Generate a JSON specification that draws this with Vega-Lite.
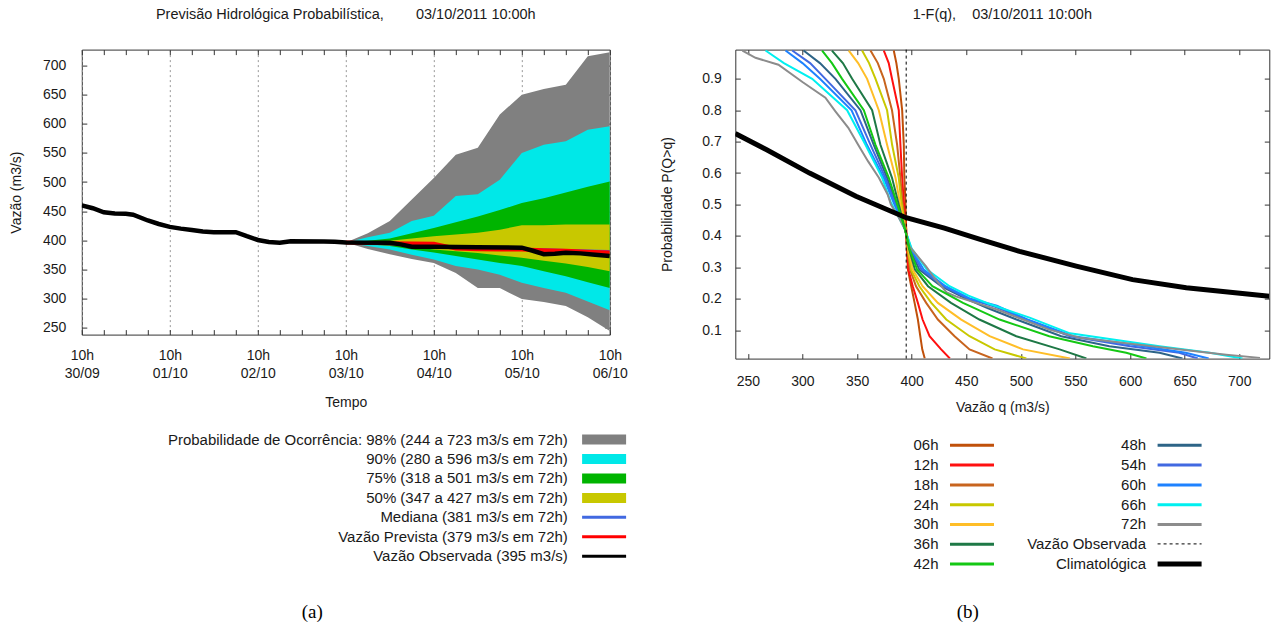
{
 "$schema": "https://vega.github.io/schema/vega-lite/v6.json",
 "background": "white",
 "padding": {"left": 8.8, "top": 5.6, "right": 0, "bottom": 0},
 "spacing": 25.5,
 "resolve": {"scale": {"color": "independent", "stroke": "independent", "fill": "independent", "strokeDash": "independent", "strokeWidth": "independent"}, "legend": {"color": "independent", "stroke": "independent", "fill": "independent", "strokeDash": "independent", "strokeWidth": "independent"}},
 "config": {
  "view": {"stroke": "#333", "strokeWidth": 1},
  "font": "Liberation Sans",
  "axis": {"labelFont": "Liberation Sans", "labelFontSize": 14, "labelColor": "#1a1a1a", "titleFont": "Liberation Sans", "titleFontSize": 14, "titleFontWeight": "normal", "titleColor": "#1a1a1a", "tickColor": "#333", "domain": false, "grid": false},
  "legend": {"labelFont": "Liberation Sans", "labelFontSize": 15, "labelColor": "#1a1a1a", "labelLimit": 0, "padding": 0},
  "title": {"font": "Liberation Sans", "fontSize": 14.5, "fontWeight": "normal", "color": "#1a1a1a", "anchor": "middle", "offset": 27, "baseline": "alphabetic"}
 },
 "datasets": {
  "bands": [
   {"t":72,"lo98":396,"hi98":396,"lo90":396,"hi90":396,"lo75":396,"hi75":396,"lo50":396,"hi50":396},
   {"t":78,"lo98":385,"hi98":412,"lo90":390,"hi90":405,"lo75":393,"hi75":399,"lo50":395,"hi50":397},
   {"t":84,"lo98":376,"hi98":433,"lo90":384,"hi90":413,"lo75":390,"hi75":403,"lo50":394,"hi50":399},
   {"t":90,"lo98":368,"hi98":470,"lo90":375,"hi90":433,"lo75":384,"hi75":412,"lo50":389,"hi50":403},
   {"t":96,"lo98":361,"hi98":507,"lo90":367,"hi90":442,"lo75":379,"hi75":421,"lo50":384,"hi50":407},
   {"t":102,"lo98":344,"hi98":547,"lo90":356,"hi90":476,"lo75":373,"hi75":431,"lo50":381,"hi50":410},
   {"t":108,"lo98":318,"hi98":559,"lo90":350,"hi90":479,"lo75":367,"hi75":441,"lo50":378,"hi50":413},
   {"t":114,"lo98":318,"hi98":616,"lo90":341,"hi90":504,"lo75":361,"hi75":452,"lo50":374,"hi50":418},
   {"t":120,"lo98":299,"hi98":650,"lo90":327,"hi90":550,"lo75":356,"hi75":464,"lo50":370,"hi50":426},
   {"t":126,"lo98":294,"hi98":660,"lo90":318,"hi90":564,"lo75":347,"hi75":472,"lo50":365,"hi50":426},
   {"t":132,"lo98":287,"hi98":667,"lo90":310,"hi90":570,"lo75":338,"hi75":482,"lo50":360,"hi50":427},
   {"t":138,"lo98":268,"hi98":716,"lo90":295,"hi90":590,"lo75":328,"hi75":492,"lo50":354,"hi50":427},
   {"t":144,"lo98":244,"hi98":723,"lo90":280,"hi90":596,"lo75":318,"hi75":501,"lo50":347,"hi50":427}
  ],
  "obs": [
   {"t":0,"v":460},{"t":3,"v":455},{"t":6,"v":448},{"t":9,"v":446},{"t":12,"v":445.5},{"t":14,"v":444},{"t":18,"v":434},{"t":21,"v":428},{"t":24,"v":423},{"t":27,"v":420},{"t":30,"v":417.5},{"t":33,"v":415},{"t":36,"v":414},{"t":42,"v":414},{"t":45,"v":407},{"t":48,"v":400.5},{"t":51,"v":397},{"t":54,"v":395.8},{"t":57,"v":398.3},{"t":66,"v":398},{"t":69,"v":397.5},{"t":72,"v":396},{"t":84,"v":395.8},{"t":87,"v":393},{"t":90,"v":389},{"t":96,"v":389},{"t":108,"v":388},{"t":120,"v":387.3},{"t":123,"v":382},{"t":126,"v":376},{"t":129,"v":377},{"t":132,"v":378.5},{"t":136,"v":377.5},{"t":140,"v":375},{"t":144,"v":373}
  ],
  "prev": [
   {"t":72,"v":396},{"t":78,"v":395.5},{"t":84,"v":395},{"t":90,"v":394.5},{"t":96,"v":394},{"t":102,"v":386},{"t":108,"v":384.5},{"t":114,"v":384},{"t":120,"v":384},{"t":126,"v":383},{"t":132,"v":382},{"t":138,"v":380.5},{"t":144,"v":379}
  ],
  "med": [
   {"t":72,"v":396},{"t":78,"v":395},{"t":84,"v":393.5},{"t":90,"v":392},{"t":96,"v":390.5},{"t":102,"v":389},{"t":108,"v":388},{"t":114,"v":386.5},{"t":120,"v":385},{"t":126,"v":384},{"t":132,"v":383},{"t":138,"v":382},{"t":144,"v":381}
  ],
  "clim": [
   {"q":238.5,"p":0.726},{"q":266.8,"p":0.675},{"q":306.5,"p":0.6},{"q":349,"p":0.526},{"q":395,"p":0.458},{"q":430,"p":0.425},{"q":462,"p":0.39},{"q":498.8,"p":0.351},{"q":550.7,"p":0.304},{"q":602.3,"p":0.261},{"q":651.5,"p":0.235},{"q":727.5,"p":0.208}
  ],
  "curves": [
   {"h":"06h","q":383.6,"p":0.99},{"h":"06h","q":386,"p":0.95},{"h":"06h","q":388.2,"p":0.9},{"h":"06h","q":391.3,"p":0.8},{"h":"06h","q":392.8,"p":0.69},{"h":"06h","q":393.3,"p":0.585},{"h":"06h","q":394.3,"p":0.51},{"h":"06h","q":395,"p":0.42},{"h":"06h","q":395.5,"p":0.36},{"h":"06h","q":396.6,"p":0.293},{"h":"06h","q":399.6,"p":0.24},{"h":"06h","q":402.7,"p":0.187},{"h":"06h","q":405.7,"p":0.134},{"h":"06h","q":407.9,"p":0.081},{"h":"06h","q":409.7,"p":0.039},{"h":"06h","q":412,"p":0.01},
   {"h":"12h","q":374.5,"p":0.99},{"h":"12h","q":379,"p":0.95},{"h":"12h","q":382,"p":0.9},{"h":"12h","q":388.2,"p":0.8},{"h":"12h","q":389.7,"p":0.69},{"h":"12h","q":391.3,"p":0.585},{"h":"12h","q":392.8,"p":0.51},{"h":"12h","q":395,"p":0.42},{"h":"12h","q":395.8,"p":0.36},{"h":"12h","q":397,"p":0.293},{"h":"12h","q":401,"p":0.24},{"h":"12h","q":405.7,"p":0.187},{"h":"12h","q":410,"p":0.134},{"h":"12h","q":416.4,"p":0.081},{"h":"12h","q":427,"p":0.039},{"h":"12h","q":435,"p":0.01},
   {"h":"18h","q":362.3,"p":0.99},{"h":"18h","q":369,"p":0.95},{"h":"18h","q":374.5,"p":0.9},{"h":"18h","q":382,"p":0.8},{"h":"18h","q":386.7,"p":0.69},{"h":"18h","q":389.7,"p":0.585},{"h":"18h","q":391.5,"p":0.51},{"h":"18h","q":394.5,"p":0.42},{"h":"18h","q":396,"p":0.36},{"h":"18h","q":398.5,"p":0.293},{"h":"18h","q":404,"p":0.24},{"h":"18h","q":413.3,"p":0.187},{"h":"18h","q":424,"p":0.134},{"h":"18h","q":439.3,"p":0.081},{"h":"18h","q":453,"p":0.039},{"h":"18h","q":474,"p":0.01},
   {"h":"24h","q":354.6,"p":0.99},{"h":"24h","q":361,"p":0.95},{"h":"24h","q":366.9,"p":0.9},{"h":"24h","q":377.5,"p":0.8},{"h":"24h","q":382.1,"p":0.69},{"h":"24h","q":388.2,"p":0.585},{"h":"24h","q":390.5,"p":0.51},{"h":"24h","q":394.5,"p":0.42},{"h":"24h","q":396.5,"p":0.36},{"h":"24h","q":399.5,"p":0.293},{"h":"24h","q":407,"p":0.24},{"h":"24h","q":418,"p":0.187},{"h":"24h","q":431.7,"p":0.134},{"h":"24h","q":453,"p":0.081},{"h":"24h","q":476,"p":0.039},{"h":"24h","q":505,"p":0.01},
   {"h":"30h","q":342.4,"p":0.99},{"h":"30h","q":351,"p":0.95},{"h":"30h","q":359.2,"p":0.9},{"h":"30h","q":369.9,"p":0.8},{"h":"30h","q":377.5,"p":0.69},{"h":"30h","q":385.2,"p":0.585},{"h":"30h","q":389,"p":0.51},{"h":"30h","q":394.3,"p":0.42},{"h":"30h","q":397,"p":0.36},{"h":"30h","q":401,"p":0.293},{"h":"30h","q":410,"p":0.24},{"h":"30h","q":424,"p":0.187},{"h":"30h","q":445.4,"p":0.134},{"h":"30h","q":471.4,"p":0.081},{"h":"30h","q":502,"p":0.039},{"h":"30h","q":545,"p":0.01},
   {"h":"36h","q":327,"p":0.99},{"h":"36h","q":337,"p":0.95},{"h":"36h","q":345.5,"p":0.9},{"h":"36h","q":363.8,"p":0.8},{"h":"36h","q":371.4,"p":0.69},{"h":"36h","q":382,"p":0.585},{"h":"36h","q":387.5,"p":0.51},{"h":"36h","q":394,"p":0.42},{"h":"36h","q":397.5,"p":0.36},{"h":"36h","q":403,"p":0.293},{"h":"36h","q":415,"p":0.24},{"h":"36h","q":436,"p":0.187},{"h":"36h","q":462,"p":0.134},{"h":"36h","q":495.8,"p":0.081},{"h":"36h","q":535.5,"p":0.039},{"h":"36h","q":560,"p":0.01},
   {"h":"42h","q":318,"p":0.99},{"h":"42h","q":327,"p":0.95},{"h":"42h","q":336.3,"p":0.9},{"h":"42h","q":356.2,"p":0.8},{"h":"42h","q":366.9,"p":0.69},{"h":"42h","q":379.1,"p":0.585},{"h":"42h","q":386,"p":0.51},{"h":"42h","q":394,"p":0.42},{"h":"42h","q":398,"p":0.36},{"h":"42h","q":405,"p":0.293},{"h":"42h","q":419,"p":0.24},{"h":"42h","q":447,"p":0.187},{"h":"42h","q":480.5,"p":0.134},{"h":"42h","q":526,"p":0.081},{"h":"42h","q":566,"p":0.049},{"h":"42h","q":596.5,"p":0.028},{"h":"42h","q":615,"p":0.01},
   {"h":"48h","q":301,"p":0.99},{"h":"48h","q":316,"p":0.95},{"h":"48h","q":330.2,"p":0.9},{"h":"48h","q":353.1,"p":0.8},{"h":"48h","q":365.3,"p":0.69},{"h":"48h","q":377.5,"p":0.585},{"h":"48h","q":385,"p":0.51},{"h":"48h","q":394,"p":0.42},{"h":"48h","q":398.5,"p":0.36},{"h":"48h","q":407,"p":0.293},{"h":"48h","q":427,"p":0.24},{"h":"48h","q":450,"p":0.2},{"h":"48h","q":470,"p":0.17},{"h":"48h","q":496,"p":0.134},{"h":"48h","q":537,"p":0.081},{"h":"48h","q":581,"p":0.049},{"h":"48h","q":627,"p":0.028},{"h":"48h","q":648,"p":0.01},
   {"h":"54h","q":290.6,"p":0.99},{"h":"54h","q":307,"p":0.95},{"h":"54h","q":321,"p":0.9},{"h":"54h","q":348.5,"p":0.8},{"h":"54h","q":362.3,"p":0.69},{"h":"54h","q":376,"p":0.585},{"h":"54h","q":384,"p":0.51},{"h":"54h","q":394,"p":0.42},{"h":"54h","q":399,"p":0.36},{"h":"54h","q":409,"p":0.293},{"h":"54h","q":429,"p":0.24},{"h":"54h","q":452,"p":0.2},{"h":"54h","q":476,"p":0.175},{"h":"54h","q":505,"p":0.134},{"h":"54h","q":545,"p":0.081},{"h":"54h","q":600,"p":0.049},{"h":"54h","q":645,"p":0.028},{"h":"54h","q":662,"p":0.01},
   {"h":"60h","q":284.5,"p":0.99},{"h":"60h","q":300,"p":0.95},{"h":"60h","q":316,"p":0.9},{"h":"60h","q":345,"p":0.8},{"h":"60h","q":359,"p":0.69},{"h":"60h","q":374.5,"p":0.585},{"h":"60h","q":383,"p":0.51},{"h":"60h","q":394,"p":0.42},{"h":"60h","q":399.5,"p":0.36},{"h":"60h","q":411,"p":0.293},{"h":"60h","q":431,"p":0.24},{"h":"60h","q":454,"p":0.2},{"h":"60h","q":478,"p":0.178},{"h":"60h","q":506,"p":0.134},{"h":"60h","q":548,"p":0.081},{"h":"60h","q":612,"p":0.049},{"h":"60h","q":651,"p":0.028},{"h":"60h","q":672,"p":0.01},
   {"h":"66h","q":266.2,"p":0.99},{"h":"66h","q":283,"p":0.95},{"h":"66h","q":308.9,"p":0.9},{"h":"66h","q":340.9,"p":0.8},{"h":"66h","q":357.7,"p":0.69},{"h":"66h","q":373,"p":0.585},{"h":"66h","q":380.6,"p":0.51},{"h":"66h","q":394,"p":0.42},{"h":"66h","q":400,"p":0.36},{"h":"66h","q":414,"p":0.293},{"h":"66h","q":434.7,"p":0.24},{"h":"66h","q":452,"p":0.21},{"h":"66h","q":470,"p":0.185},{"h":"66h","q":508,"p":0.14},{"h":"66h","q":545,"p":0.09},{"h":"66h","q":627,"p":0.049},{"h":"66h","q":673,"p":0.028},{"h":"66h","q":703,"p":0.01},
   {"h":"72h","q":245,"p":0.99},{"h":"72h","q":257,"p":0.967},{"h":"72h","q":278,"p":0.945},{"h":"72h","q":300,"p":0.89},{"h":"72h","q":321,"p":0.84},{"h":"72h","q":330,"p":0.797},{"h":"72h","q":342,"p":0.744},{"h":"72h","q":351,"p":0.69},{"h":"72h","q":360,"p":0.638},{"h":"72h","q":370,"p":0.585},{"h":"72h","q":378,"p":0.532},{"h":"72h","q":381,"p":0.5},{"h":"72h","q":388,"p":0.46},{"h":"72h","q":394,"p":0.42},{"h":"72h","q":398,"p":0.367},{"h":"72h","q":413,"p":0.304},{"h":"72h","q":422,"p":0.261},{"h":"72h","q":432,"p":0.22},{"h":"72h","q":441,"p":0.207},{"h":"72h","q":459,"p":0.187},{"h":"72h","q":478,"p":0.166},{"h":"72h","q":502,"p":0.134},{"h":"72h","q":526,"p":0.102},{"h":"72h","q":554,"p":0.076},{"h":"72h","q":581,"p":0.065},{"h":"72h","q":648,"p":0.038},{"h":"72h","q":688,"p":0.022},{"h":"72h","q":719,"p":0.012}
  ]
 },
 "hconcat": [
  {
   "width": 528,
   "height": 285,
   "title": {"text": "Previsão Hidrológica Probabilística,\u00a0\u00a0\u00a0\u00a0\u00a0\u00a0\u00a0 03/10/2011 10:00h"},
   "resolve": {"axis": {"x": "independent", "y": "independent"}},
   "layer": [
    {
     "data": {"name": "bands"},
     "mark": {"type": "area", "clip": true, "opacity": 1},
     "encoding": {
      "x": {"field": "t", "type": "quantitative", "scale": {"domain": [0, 144], "nice": false, "zero": false},
       "axis": {"orient": "bottom", "values": [0,6,12,18,24,30,36,42,48,54,60,66,72,78,84,90,96,102,108,114,120,126,132,138,144], "tickSize": -5, "labelPadding": 19.4, "labelBaseline": "top", "labelLineHeight": 18, "labelFlush": false, "labelOverlap": false,
        "labelExpr": "datum.value % 24 === 0 ? ['10h', ['30/09','01/10','02/10','03/10','04/10','05/10','06/10'][datum.value / 24]] : ''",
        "grid": true, "gridColor": "#999", "gridDash": [2, 3], "gridOpacity": {"condition": {"test": "datum.value % 24 === 0", "value": 1}, "value": 0},
        "title": "Tempo", "titleY": 68, "titleBaseline": "middle"}},
      "y": {"field": "lo98", "type": "quantitative", "scale": {"domain": [238, 727.5], "nice": false, "zero": false},
       "axis": {"orient": "left", "values": [250,300,350,400,450,500,550,600,650,700], "tickSize": -5, "labelPadding": 21, "title": "Vazão (m3/s)", "titleX": -58, "titleAngle": -90, "titleBaseline": "bottom"}},
      "y2": {"field": "hi98"},
      "fill": {"datum": "Probabilidade de Ocorrência: 98% (244 a 723 m3/s em 72h)", "type": "nominal",
       "scale": {"domain": ["Probabilidade de Ocorrência: 98% (244 a 723 m3/s em 72h)", "90% (280 a 596 m3/s em 72h)", "75% (318 a 501 m3/s em 72h)", "50% (347 a 427 m3/s em 72h)"], "range": ["#808080", "#00e8e8", "#00b400", "#c8c800"]},
       "legend": {"orient": "none", "legendX": 500.3, "legendY": 382, "title": null, "direction": "vertical", "symbolType": "M-1,-0.227H1V0.227H-1Z", "symbolSize": 1936, "symbolStrokeWidth": 0, "symbolOpacity": 1, "labelAlign": "right", "labelOffset": -58.3, "rowPadding": 3.45,
        "encode": {"symbols": {"update": {"y": {"value": 8}}}, "labels": {"update": {"y": {"value": 8}}}}}}
     }
    },
    {
     "data": {"name": "bands"},
     "mark": {"type": "area", "clip": true, "opacity": 1},
     "encoding": {
      "x": {"field": "t", "type": "quantitative", "scale": {"domain": [0, 144], "nice": false, "zero": false},
       "axis": {"orient": "top", "values": [0,6,12,18,24,30,36,42,48,54,60,66,72,78,84,90,96,102,108,114,120,126,132,138,144], "tickSize": -5, "labels": false, "title": null, "grid": false}},
      "y": {"field": "lo90", "type": "quantitative", "scale": {"domain": [238, 727.5], "nice": false, "zero": false},
       "axis": {"orient": "right", "values": [250,300,350,400,450,500,550,600,650,700], "tickSize": -5, "labels": false, "title": null}},
      "y2": {"field": "hi90"},
      "fill": {"datum": "90% (280 a 596 m3/s em 72h)", "type": "nominal",
       "scale": {"domain": ["Probabilidade de Ocorrência: 98% (244 a 723 m3/s em 72h)", "90% (280 a 596 m3/s em 72h)", "75% (318 a 501 m3/s em 72h)", "50% (347 a 427 m3/s em 72h)"], "range": ["#808080", "#00e8e8", "#00b400", "#c8c800"]}}
     }
    },
    {
     "data": {"name": "bands"},
     "mark": {"type": "area", "clip": true, "opacity": 1},
     "encoding": {
      "x": {"field": "t", "type": "quantitative", "scale": {"domain": [0, 144], "nice": false, "zero": false},
       "axis": {"orient": "bottom", "ticks": false, "labels": false, "grid": false, "domain": false, "title": "(a)", "titleFont": "Liberation Serif", "titleFontSize": 19, "titleColor": "#000", "titleX": 230, "titleY": 277, "titleBaseline": "middle", "titleAlign": "center"}},
      "y": {"field": "lo75", "type": "quantitative", "scale": {"domain": [238, 727.5], "nice": false, "zero": false}, "axis": null},
      "y2": {"field": "hi75"},
      "fill": {"datum": "75% (318 a 501 m3/s em 72h)", "type": "nominal",
       "scale": {"domain": ["Probabilidade de Ocorrência: 98% (244 a 723 m3/s em 72h)", "90% (280 a 596 m3/s em 72h)", "75% (318 a 501 m3/s em 72h)", "50% (347 a 427 m3/s em 72h)"], "range": ["#808080", "#00e8e8", "#00b400", "#c8c800"]}}
     }
    },
    {
     "data": {"name": "bands"},
     "mark": {"type": "area", "clip": true, "opacity": 1},
     "encoding": {
      "x": {"field": "t", "type": "quantitative", "scale": {"domain": [0, 144], "nice": false, "zero": false}, "axis": null},
      "y": {"field": "lo50", "type": "quantitative", "scale": {"domain": [238, 727.5], "nice": false, "zero": false}, "axis": null},
      "y2": {"field": "hi50"},
      "fill": {"datum": "50% (347 a 427 m3/s em 72h)", "type": "nominal",
       "scale": {"domain": ["Probabilidade de Ocorrência: 98% (244 a 723 m3/s em 72h)", "90% (280 a 596 m3/s em 72h)", "75% (318 a 501 m3/s em 72h)", "50% (347 a 427 m3/s em 72h)"], "range": ["#808080", "#00e8e8", "#00b400", "#c8c800"]}}
     }
    },
    {
     "data": {"name": "med"},
     "mark": {"type": "line", "clip": true, "strokeWidth": 2.5},
     "encoding": {
      "x": {"field": "t", "type": "quantitative", "scale": {"domain": [0, 144], "nice": false, "zero": false}, "axis": null},
      "y": {"field": "v", "type": "quantitative", "scale": {"domain": [238, 727.5], "nice": false, "zero": false}, "axis": null},
      "stroke": {"datum": "Mediana (381 m3/s em 72h)", "type": "nominal",
       "scale": {"domain": ["Mediana (381 m3/s em 72h)", "Vazão Prevista (379 m3/s em 72h)", "Vazão Observada (395 m3/s)"], "range": ["#4169e1", "#ff0000", "#000000"]},
       "legend": {"orient": "none", "legendX": 498.8, "legendY": 459.7, "title": null, "direction": "vertical", "symbolType": "stroke", "symbolSize": 1936, "symbolStrokeWidth": 3, "symbolOpacity": 1, "labelAlign": "right", "labelOffset": -59.8, "rowPadding": 3.45,
        "encode": {"symbols": {"update": {"y": {"value": 8}}}, "labels": {"update": {"y": {"value": 8}}}}}}
     }
    },
    {
     "data": {"name": "prev"},
     "mark": {"type": "line", "clip": true, "strokeWidth": 4},
     "encoding": {
      "x": {"field": "t", "type": "quantitative", "scale": {"domain": [0, 144], "nice": false, "zero": false}, "axis": null},
      "y": {"field": "v", "type": "quantitative", "scale": {"domain": [238, 727.5], "nice": false, "zero": false}, "axis": null},
      "stroke": {"datum": "Vazão Prevista (379 m3/s em 72h)", "type": "nominal",
       "scale": {"domain": ["Mediana (381 m3/s em 72h)", "Vazão Prevista (379 m3/s em 72h)", "Vazão Observada (395 m3/s)"], "range": ["#4169e1", "#ff0000", "#000000"]}}
     }
    },
    {
     "data": {"name": "obs"},
     "mark": {"type": "line", "clip": true, "strokeWidth": 4.5},
     "encoding": {
      "x": {"field": "t", "type": "quantitative", "scale": {"domain": [0, 144], "nice": false, "zero": false}, "axis": null},
      "y": {"field": "v", "type": "quantitative", "scale": {"domain": [238, 727.5], "nice": false, "zero": false}, "axis": null},
      "stroke": {"datum": "Vazão Observada (395 m3/s)", "type": "nominal",
       "scale": {"domain": ["Mediana (381 m3/s em 72h)", "Vazão Prevista (379 m3/s em 72h)", "Vazão Observada (395 m3/s)"], "range": ["#4169e1", "#ff0000", "#000000"]}}
     }
    }
   ]
  },
  {
   "width": 534,
   "height": 309,
   "title": {"text": "1-F(q),\u00a0\u00a0\u00a0 03/10/2011 10:00h"},
   "resolve": {"axis": {"x": "independent", "y": "independent"}},
   "layer": [
    {
     "data": {"name": "curves"},
     "transform": [{"filter": "indexof(['48h','54h','60h','66h','72h'], datum.h) >= 0"}],
     "mark": {"type": "line", "clip": true, "strokeWidth": 2},
     "encoding": {
      "x": {"field": "q", "type": "quantitative", "scale": {"domain": [238.5, 727.5], "nice": false, "zero": false},
       "axis": {"orient": "top", "values": [250,300,350,400,450,500,550,600,650,700], "tickSize": -5, "labels": false, "title": null}},
      "y": {"field": "p", "type": "quantitative", "scale": {"domain": [0.0097, 0.993], "nice": false, "zero": false},
       "axis": {"orient": "right", "values": [0.1,0.2,0.3,0.4,0.5,0.6,0.7,0.8,0.9], "tickSize": -5, "labels": false, "title": null}},
      "order": {"field": "p", "sort": "descending"},
      "color": {"field": "h", "type": "nominal",
       "scale": {"domain": ["48h","54h","60h","66h","72h"], "range": ["#2d6487","#4169e1","#1e82ff","#00f0f0","#8c8c8c"]},
       "legend": {"orient": "none", "legendX": 420.8, "legendY": 387.7, "title": null, "direction": "vertical", "symbolType": "stroke", "symbolSize": 1936, "symbolStrokeWidth": 3, "symbolOpacity": 1, "labelAlign": "right", "labelOffset": -57, "rowPadding": 3.8,
        "encode": {"symbols": {"update": {"y": {"value": 8}}}, "labels": {"update": {"y": {"value": 8}}}}}}
     }
    },
    {
     "data": {"name": "curves"},
     "transform": [{"filter": "indexof(['06h','12h','18h','24h','30h','36h','42h'], datum.h) >= 0"}],
     "mark": {"type": "line", "clip": true, "strokeWidth": 2},
     "encoding": {
      "x": {"field": "q", "type": "quantitative", "scale": {"domain": [238.5, 727.5], "nice": false, "zero": false},
       "axis": {"orient": "bottom", "values": [250,300,350,400,450,500,550,600,650,700], "tickSize": -5, "labelPadding": 21.4, "labelBaseline": "top", "labelFlush": false, "labelOverlap": false, "title": "Vazão q (m3/s)", "titleY": 49, "titleBaseline": "middle"}},
      "y": {"field": "p", "type": "quantitative", "scale": {"domain": [0.0097, 0.993], "nice": false, "zero": false},
       "axis": {"orient": "left", "values": [0.1,0.2,0.3,0.4,0.5,0.6,0.7,0.8,0.9], "format": ".1f", "tickSize": -5, "labelPadding": 19, "title": "Probabilidade P(Q>q)", "titleX": -61, "titleAngle": -90, "titleBaseline": "bottom"}},
      "order": {"field": "p", "sort": "descending"},
      "stroke": {"field": "h", "type": "nominal",
       "scale": {"domain": ["06h","12h","18h","24h","30h","36h","42h"], "range": ["#c0500a","#ff1010","#c8641e","#c8c800","#ffbe28","#1e7846","#14c814"]},
       "legend": {"orient": "none", "legendX": 213.2, "legendY": 387.7, "title": null, "direction": "vertical", "symbolType": "stroke", "symbolSize": 1936, "symbolStrokeWidth": 3, "symbolOpacity": 1, "labelAlign": "right", "labelOffset": -57, "rowPadding": 3.8,
        "encode": {"symbols": {"update": {"y": {"value": 8}}}, "labels": {"update": {"y": {"value": 8}}}}}}
     }
    },
    {
     "data": {"values": [{}]},
     "mark": {"type": "rule", "strokeWidth": 1, "color": "#000000"},
     "encoding": {
      "x": {"datum": 395, "type": "quantitative", "scale": {"domain": [238.5, 727.5], "nice": false, "zero": false}, "axis": null},
      "strokeDash": {"datum": "Vazão Observada", "type": "nominal",
       "scale": {"domain": ["Vazão Observada"], "range": [[3, 3]]},
       "legend": {"orient": "none", "legendX": 421.8, "legendY": 486.3, "title": null, "direction": "vertical", "symbolType": "stroke", "symbolSize": 1936, "symbolStrokeWidth": 1, "symbolStrokeColor": "#000000", "symbolOpacity": 1, "labelAlign": "right", "labelOffset": -56.1,
        "encode": {"symbols": {"update": {"y": {"value": 8}}}, "labels": {"update": {"y": {"value": 8}}}}}}
     }
    },
    {
     "data": {"name": "clim"},
     "mark": {"type": "line", "clip": true, "color": "#000000", "strokeWidth": 5},
     "encoding": {
      "x": {"field": "q", "type": "quantitative", "scale": {"domain": [238.5, 727.5], "nice": false, "zero": false},
       "axis": {"orient": "bottom", "ticks": false, "labels": false, "grid": false, "domain": false, "title": "(b)", "titleFont": "Liberation Serif", "titleFontSize": 19, "titleColor": "#000", "titleX": 232, "titleY": 253, "titleBaseline": "middle", "titleAlign": "center"}},
      "y": {"field": "p", "type": "quantitative", "scale": {"domain": [0.0097, 0.993], "nice": false, "zero": false}, "axis": null},
      "strokeWidth": {"datum": "Climatológica", "type": "nominal",
       "scale": {"type": "point", "domain": ["Climatológica"], "range": [5, 5]},
       "legend": {"orient": "none", "legendX": 419.8, "legendY": 506.3, "title": null, "direction": "vertical", "symbolType": "stroke", "symbolSize": 1936, "symbolStrokeColor": "#000000", "symbolOpacity": 1, "labelAlign": "right", "labelOffset": -58.1,
        "encode": {"symbols": {"update": {"y": {"value": 8}, "strokeWidth": {"value": 5}}}, "labels": {"update": {"y": {"value": 8}}}}}}
     }
    }
   ]
  }
 ]
}
